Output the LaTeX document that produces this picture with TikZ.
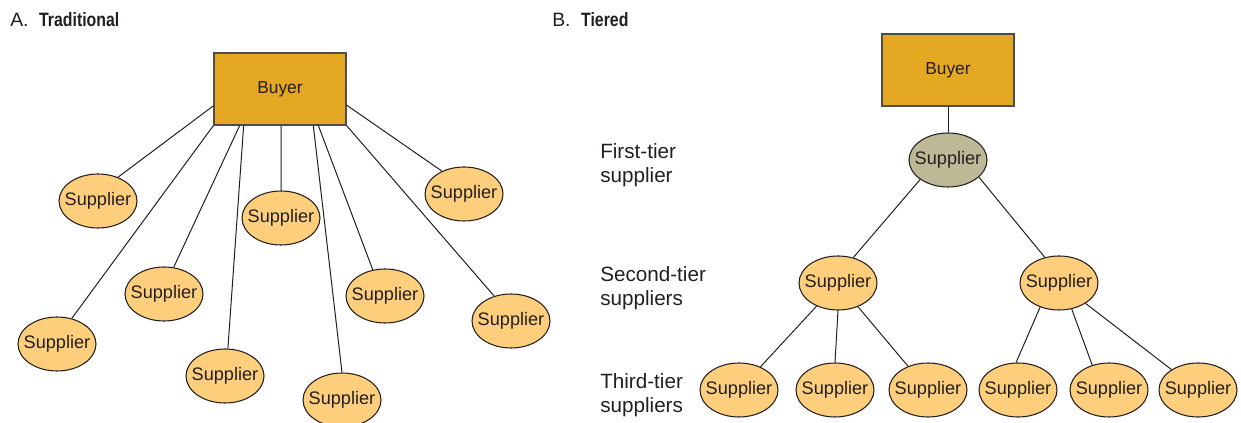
\documentclass[tikz,border=0pt]{standalone}
\usepackage{fontspec}
\setmainfont{Liberation Sans}
\usetikzlibrary{shapes.geometric,calc}
\definecolor{ink}{HTML}{231F20}
\definecolor{buyerfill}{HTML}{E5A823}
\definecolor{supfill}{HTML}{FDCE7C}
\definecolor{firstfill}{HTML}{BDB996}
\newcommand{\suptext}{\makebox[0pt][c]{Supplier}}
\tikzset{
  sup/.style={ellipse, draw=ink, line width=0.8pt, fill=supfill, minimum width=58.5pt, minimum height=40.5pt, inner sep=0pt, text=ink, font=\fontsize{13.6}{16}\selectfont},
  firstsup/.style={sup, fill=firstfill},
  buyerbox/.style={rectangle, draw=ink!80, line width=0.9pt, fill=buyerfill, minimum width=99pt, minimum height=54pt, inner sep=0pt, text=ink, font=\fontsize{13}{16}\selectfont},
  link/.style={draw=ink, line width=0.75pt},
  tierlabel/.style={anchor=north west, align=left, inner sep=0pt, text=ink, font=\fontsize{15.5}{18}\selectfont},
  paneltitle/.style={anchor=base west, inner sep=0pt, text=ink, font=\fontsize{14.5}{17}\selectfont}
}
\begin{document}
\begin{tikzpicture}[x=0.75pt,y=-0.75pt]
\useasboundingbox (0,0) rectangle (1241,423);
% ---------- Panel A ----------
\node[paneltitle] (tA) at (10,27) {A.\hspace{0.55em}\scalebox{0.82}[1]{\bfseries Traditional}};
\node[buyerbox] (bA) at (280,89) {Buyer};
\node[sup] (a1) at (98,201) {\suptext};
\node[sup] (a2) at (164,294) {\suptext};
\node[sup] (a3) at (281,218) {\suptext};
\node[sup] (a4) at (385,296) {\suptext};
\node[sup] (a5) at (464,194) {\suptext};
\node[sup] (a6) at (511,321) {\suptext};
\node[sup] (a7) at (57,344) {\suptext};
\node[sup] (a8) at (225,376) {\suptext};
\node[sup] (a9) at (342,400) {\suptext};
\draw[link] ($(bA.north west)!0.73!(bA.south west)$) -- (a1.50);
\draw[link] (bA.south west) -- (a7.60);
\draw[link] ($(bA.south west)!0.197!(bA.south east)$) -- (a2.70);
\draw[link] ($(bA.south west)!0.227!(bA.south east)$) -- (a8.84);
\draw[link] ($(bA.south west)!0.508!(bA.south east)$) -- (a3.north);
\draw[link] ($(bA.south west)!0.75!(bA.south east)$) -- (a9.north);
\draw[link] ($(bA.south west)!0.788!(bA.south east)$) -- (a4.115);
\draw[link] (bA.south east) -- (a6.124);
\draw[link] ($(bA.north east)!0.72!(bA.south east)$) -- (a5.134);
% ---------- Panel B ----------
\node[paneltitle] (tB) at (552,27) {B.\hspace{0.55em}\scalebox{0.82}[1]{\bfseries Tiered}};
\node[buyerbox] (bB) at (948,70) {Buyer};
\node[firstsup] (f1) at (948,160) {\suptext};
\node[sup] (s1) at (838,283) {\suptext};
\node[sup] (s2) at (1059,283) {\suptext};
\node[sup] (t1) at (739,390) {\suptext};
\node[sup] (t2) at (835,390) {\suptext};
\node[sup] (t3) at (928,390) {\suptext};
\node[sup] (t4) at (1018,390) {\suptext};
\node[sup] (t5) at (1109,390) {\suptext};
\node[sup] (t6) at (1198,390) {\suptext};
\node[tierlabel] (l1) at (600,143) {First-tier\\supplier};
\node[tierlabel] (l2) at (600,266) {Second-tier\\suppliers};
\node[tierlabel] (l3) at (600,373) {Third-tier\\suppliers};
\draw[link] (bB.south) -- (f1.north);
\draw[link] (f1.215) -- (s1.59);
\draw[link] (f1.331) -- (s2.119);
\draw[link] (s1) -- (t1);
\draw[link] (s1.south) -- (t2.north);
\draw[link] (s1) -- (t3);
\draw[link] (s2.232) -- (t4.94);
\draw[link] (s2.296) -- (t5.124);
\draw[link] (s2) -- (t6);
\end{tikzpicture}
\end{document}
